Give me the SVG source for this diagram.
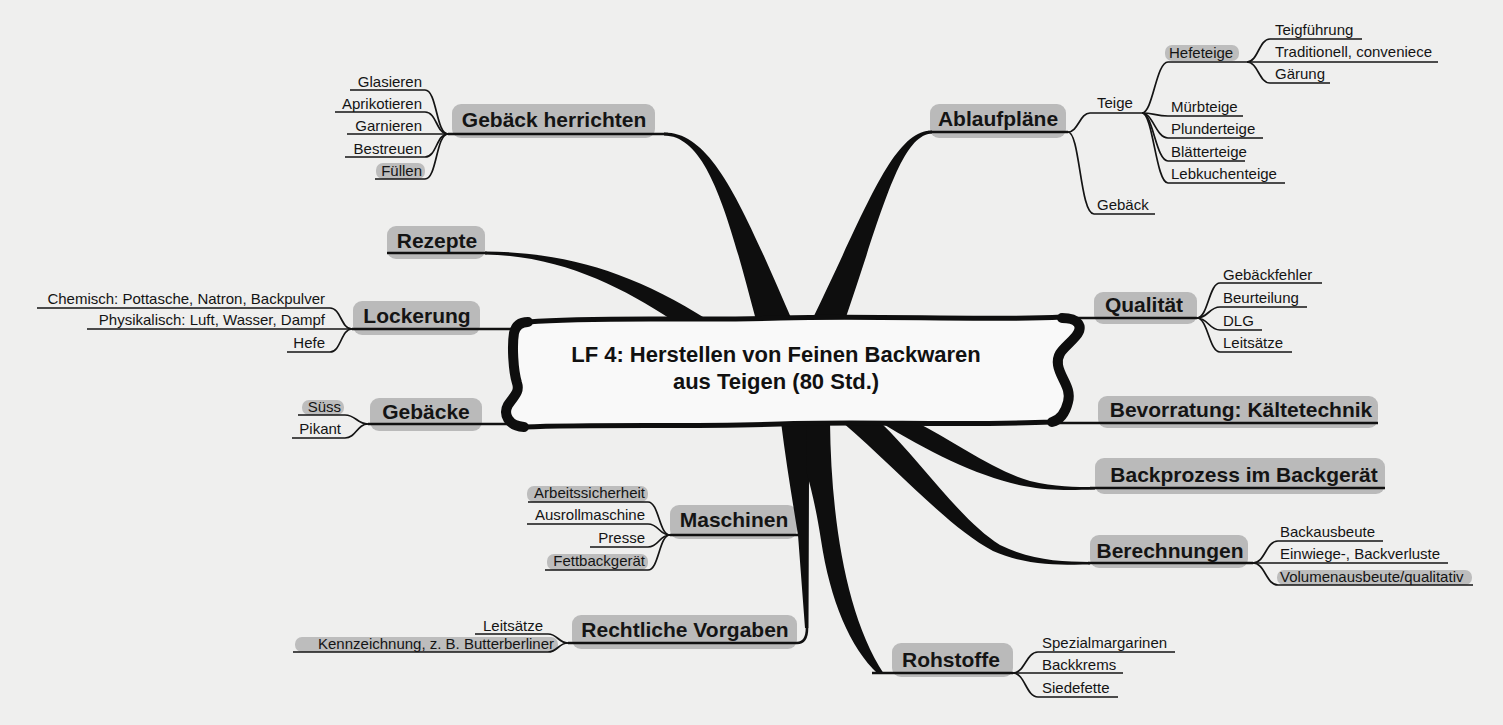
<svg xmlns="http://www.w3.org/2000/svg" width="1503" height="725" viewBox="0 0 1503 725">
  <style>
    .bg { fill: #efefee; }
    .box { fill: #bababa; }
    .pill { fill: #bdbdbd; }
    .main { font-family: "Liberation Sans", Arial, sans-serif; font-weight: bold; font-size: 21px; fill: #141414; text-anchor: middle; }
    .sub { font-family: "Liberation Sans", Arial, sans-serif; font-size: 15px; fill: #141414; }
    .end { text-anchor: end; }
    .title { font-family: "Liberation Sans", Arial, sans-serif; font-weight: bold; font-size: 22px; fill: #111; text-anchor: middle; }
    .ln { fill: none; stroke: #141414; stroke-width: 1.7; }
    .mln { fill: none; stroke: #111; stroke-width: 2.6; }
    .wedge { fill: #0e0e0e; }
    .banner { fill: #f9f9f9; stroke: #0e0e0e; stroke-width: 5; stroke-linejoin: round; }
    .curl { fill: none; stroke: #0e0e0e; stroke-width: 10; stroke-linecap: round; }
  </style>

  <rect class="bg" x="0" y="0" width="1503" height="725"/>

  <!-- topic nodes: gray label boxes and texts -->
  <g id="node-gebaeck-herrichten">
    <rect class="box" x="452" y="104" width="203" height="34" rx="9"/>
    <text class="main" x="554" y="127">Gebäck herrichten</text>
    <text class="sub end" x="422" y="87">Glasieren</text>
    <text class="sub end" x="422" y="109">Aprikotieren</text>
    <text class="sub end" x="422" y="131">Garnieren</text>
    <text class="sub end" x="422" y="154">Bestreuen</text>
    <rect class="pill" x="376" y="163" width="49" height="16" rx="7"/>
    <text class="sub end" x="422" y="176">Füllen</text>
  </g>

  <g id="node-ablaufplaene">
    <rect class="box" x="930" y="104" width="136" height="34" rx="9"/>
    <text class="main" x="998" y="126">Ablaufpläne</text>
    <text class="sub" x="1097" y="108">Teige</text>
    <text class="sub" x="1097" y="210">Gebäck</text>
    <rect class="pill" x="1165" y="45" width="74" height="16" rx="7"/>
    <text class="sub" x="1169" y="58">Hefeteige</text>
    <text class="sub" x="1171" y="112">Mürbteige</text>
    <text class="sub" x="1171" y="134">Plunderteige</text>
    <text class="sub" x="1171" y="157">Blätterteige</text>
    <text class="sub" x="1171" y="179">Lebkuchenteige</text>
    <text class="sub" x="1275" y="35">Teigführung</text>
    <text class="sub" x="1275" y="57">Traditionell, conveniece</text>
    <text class="sub" x="1275" y="79">Gärung</text>
  </g>

  <g id="node-rezepte">
    <rect class="box" x="387" y="226" width="98" height="33" rx="9"/>
    <text class="main" x="437" y="248">Rezepte</text>
  </g>

  <g id="node-lockerung">
    <rect class="box" x="353" y="301" width="127" height="34" rx="9"/>
    <text class="main" x="417" y="323">Lockerung</text>
    <text class="sub end" x="325" y="304">Chemisch: Pottasche, Natron, Backpulver</text>
    <text class="sub end" x="325" y="325">Physikalisch: Luft, Wasser, Dampf</text>
    <text class="sub end" x="325" y="348">Hefe</text>
  </g>

  <g id="node-gebaecke">
    <rect class="box" x="370" y="398" width="112" height="33" rx="9"/>
    <text class="main" x="426" y="419">Gebäcke</text>
    <rect class="pill" x="302" y="400" width="42" height="15" rx="7"/>
    <text class="sub end" x="341" y="412">Süss</text>
    <text class="sub end" x="341" y="434">Pikant</text>
  </g>

  <g id="node-maschinen">
    <rect class="box" x="670" y="505" width="127" height="34" rx="9"/>
    <text class="main" x="734" y="527">Maschinen</text>
    <rect class="pill" x="527" y="486" width="121" height="16" rx="7"/>
    <text class="sub end" x="645" y="498">Arbeitssicherheit</text>
    <text class="sub end" x="645" y="520">Ausrollmaschine</text>
    <text class="sub end" x="645" y="543">Presse</text>
    <rect class="pill" x="547" y="554" width="101" height="16" rx="7"/>
    <text class="sub end" x="645" y="566">Fettbackgerät</text>
  </g>

  <g id="node-rechtliche-vorgaben">
    <rect class="box" x="572" y="615" width="225" height="34" rx="9"/>
    <text class="main" x="685" y="637">Rechtliche Vorgaben</text>
    <text class="sub end" x="543" y="631">Leitsätze</text>
    <rect class="pill" x="295" y="637" width="263" height="15" rx="7"/>
    <text class="sub end" x="554" y="649">Kennzeichnung, z. B. Butterberliner</text>
  </g>

  <g id="node-qualitaet">
    <rect class="box" x="1094" y="292" width="103" height="32" rx="9"/>
    <text class="main" x="1144" y="312">Qualität</text>
    <text class="sub" x="1223" y="280">Gebäckfehler</text>
    <text class="sub" x="1223" y="303">Beurteilung</text>
    <text class="sub" x="1223" y="326">DLG</text>
    <text class="sub" x="1223" y="348">Leitsätze</text>
  </g>

  <g id="node-bevorratung">
    <rect class="box" x="1098" y="396" width="280" height="32" rx="9"/>
    <text class="main" x="1241" y="417">Bevorratung: Kältetechnik</text>
  </g>

  <g id="node-backprozess">
    <rect class="box" x="1095" y="458" width="290" height="36" rx="9"/>
    <text class="main" x="1244" y="482">Backprozess im Backgerät</text>
  </g>

  <g id="node-berechnungen">
    <rect class="box" x="1090" y="535" width="158" height="33" rx="9"/>
    <text class="main" x="1170" y="558">Berechnungen</text>
    <text class="sub" x="1280" y="537">Backausbeute</text>
    <text class="sub" x="1280" y="559">Einwiege-, Backverluste</text>
    <rect class="pill" x="1277" y="570" width="195" height="15" rx="7"/>
    <text class="sub" x="1280" y="582">Volumenausbeute/qualitativ</text>
  </g>

  <g id="node-rohstoffe">
    <rect class="box" x="892" y="643" width="121" height="34" rx="9"/>
    <text class="main" x="951" y="667">Rohstoffe</text>
    <text class="sub" x="1042" y="648">Spezialmargarinen</text>
    <text class="sub" x="1042" y="670">Backkrems</text>
    <text class="sub" x="1042" y="693">Siedefette</text>
  </g>

  <!-- connectors: tapered main branches, topic underlines, sub-branch fans -->
  <g id="connectors">
    <!-- tapered branches from the central banner -->
    <path class="wedge" d="M 664 132.5 C 712 132 742 205 792 320 L 756 320 C 728 215 708 136 664 135.5 Z"/>
    <path class="wedge" d="M 932 130.5 C 893 131 868 205 812 320 L 845 320 C 882 212 900 135 932 133.5 Z"/>
    <path class="wedge" d="M 485 251.5 C 565 252 632 272 708 320 L 672 320 C 620 286 560 256 485 254.5 Z"/>
    <path class="wedge" d="M 781 422 L 811 422 L 809 478 L 808.5 628 L 805 628 L 798 535 C 792 498 786 462 781 422 Z"/>
    <path class="wedge" d="M 806 422 L 830 422 C 831 515 845 615 884 674 L 878 674 C 850 648 830 600 821 540 C 816 508 811 488 807 474 Z"/>
    <path class="wedge" d="M 842 422 L 880 422 C 920 460 960 520 1000 545 C 1030 560 1060 562 1090 562 L 1090 564.5 C 1058 565 1024 565 993 551 C 948 527 898 470 842 422 Z"/>
    <path class="wedge" d="M 880 422 L 916 422 C 952 440 992 470 1030 481 C 1055 487 1075 487 1095 487 L 1095 489.5 C 1070 490 1050 491 1024 486 C 982 478 928 452 880 422 Z"/>

    <!-- topic underlines -->
    <path class="mln" d="M 448 134 H 668"/>
    <path class="mln" d="M 928 132 H 1068"/>
    <path class="mln" d="M 387 253 H 487"/>
    <path class="mln" d="M 352 329 H 516"/>
    <path class="mln" d="M 368 424 H 512"/>
    <path class="mln" d="M 670 535 H 800"/>
    <path class="mln" d="M 568 643 H 797 C 804 643 807 638 807 628"/>
    <path class="mln" d="M 1058 318 H 1197"/>
    <path class="mln" d="M 1058 423 H 1378"/>
    <path class="mln" d="M 1090 488 H 1385"/>
    <path class="mln" d="M 1088 563 H 1253"/>
    <path class="mln" d="M 872 673 H 1013"/>

    <!-- Gebäck herrichten -->
    <path class="ln" d="M 350 90 H 425 C 437 90 436 134 448 134"/>
    <path class="ln" d="M 335 112 H 425 C 437 112 436 134 448 134"/>
    <path class="ln" d="M 347 134 H 448"/>
    <path class="ln" d="M 345 157 H 425 C 437 157 436 134 448 134"/>
    <path class="ln" d="M 375 179 H 425 C 437 179 436 134 448 134"/>

    <!-- Lockerung -->
    <path class="ln" d="M 37 308 H 330 C 341 308 341 329 352 329"/>
    <path class="ln" d="M 87 329 H 352"/>
    <path class="ln" d="M 287 352 H 330 C 341 352 341 329 352 329"/>

    <!-- Gebäcke -->
    <path class="ln" d="M 298 415 H 345 C 356 415 357 424 368 424"/>
    <path class="ln" d="M 292 438 H 345 C 356 438 357 424 368 424"/>

    <!-- Maschinen -->
    <path class="ln" d="M 528 502 H 648 C 659 502 659 535 670 535"/>
    <path class="ln" d="M 527 524 H 648 C 659 524 659 535 670 535"/>
    <path class="ln" d="M 590 547 H 648 C 659 547 659 535 670 535"/>
    <path class="ln" d="M 545 570 H 648 C 659 570 659 535 670 535"/>

    <!-- Rechtliche Vorgaben -->
    <path class="ln" d="M 475 634 H 548 C 558 634 558 643 568 643"/>
    <path class="ln" d="M 293 652 H 548 C 558 652 558 643 568 643"/>

    <!-- Qualität -->
    <path class="ln" d="M 1197 318 C 1208 318 1209 283 1220 283 H 1322"/>
    <path class="ln" d="M 1197 318 C 1208 318 1209 307 1220 307 H 1307"/>
    <path class="ln" d="M 1197 318 C 1208 318 1209 330 1220 330 H 1262"/>
    <path class="ln" d="M 1197 318 C 1208 318 1209 352 1220 352 H 1292"/>

    <!-- Berechnungen -->
    <path class="ln" d="M 1253 563 C 1265 563 1266 541 1278 541 H 1383"/>
    <path class="ln" d="M 1253 563 H 1448"/>
    <path class="ln" d="M 1253 563 C 1265 563 1266 585 1278 585 H 1473"/>

    <!-- Rohstoffe -->
    <path class="ln" d="M 1013 673 C 1025 673 1026 652 1038 652 H 1175"/>
    <path class="ln" d="M 1013 673 H 1123"/>
    <path class="ln" d="M 1013 673 C 1025 673 1026 697 1038 697 H 1118"/>

    <!-- Ablaufpläne -->
    <path class="ln" d="M 1068 132 C 1078 132 1080 113 1090 113 H 1142"/>
    <path class="ln" d="M 1068 132 C 1080 132 1080 214 1094 214 H 1155"/>
    <path class="ln" d="M 1142 113 C 1153 113 1156 62 1168 62 H 1247"/>
    <path class="ln" d="M 1142 113 C 1153 113 1156 116 1168 116 H 1243"/>
    <path class="ln" d="M 1142 113 C 1153 113 1156 138 1168 138 H 1263"/>
    <path class="ln" d="M 1142 113 C 1153 113 1156 161 1168 161 H 1245"/>
    <path class="ln" d="M 1142 113 C 1153 113 1156 183 1168 183 H 1285"/>
    <path class="ln" d="M 1247 62 C 1258 62 1259 39 1270 39 H 1362"/>
    <path class="ln" d="M 1247 62 H 1438"/>
    <path class="ln" d="M 1247 62 C 1258 62 1259 83 1270 83 H 1330"/>
  </g>

  <!-- central topic: wavy scroll banner -->
  <g id="node-center">
    <path class="banner" d="M 528 322 C 600 316 700 321 780 318 C 880 315 980 321 1062 317 C 1078 317 1084 326 1076 336 C 1066 348 1056 352 1058 365 C 1060 378 1072 388 1068 402 C 1065 414 1060 420 1052 422 C 960 426 860 421 780 424 C 690 427 600 424 524 427 C 508 426 503 414 508 405 C 514 396 520 392 517 383 C 513 370 512 345 514 333 C 516 324 522 322 528 322 Z"/>
    <path class="curl" d="M 1062 318 C 1078 318 1084 326 1076 336 C 1066 348 1056 352 1058 365 C 1060 378 1072 388 1068 402 C 1065 414 1060 420 1052 422"/>
    <path class="curl" d="M 524 427 C 508 426 503 414 508 405 C 514 396 520 392 517 383 C 513 370 512 345 514 333 C 516 324 522 322 528 322"/>
    <text class="title" x="776" y="362">LF 4: Herstellen von Feinen Backwaren</text>
    <text class="title" x="776" y="389">aus Teigen (80 Std.)</text>
  </g>
</svg>
